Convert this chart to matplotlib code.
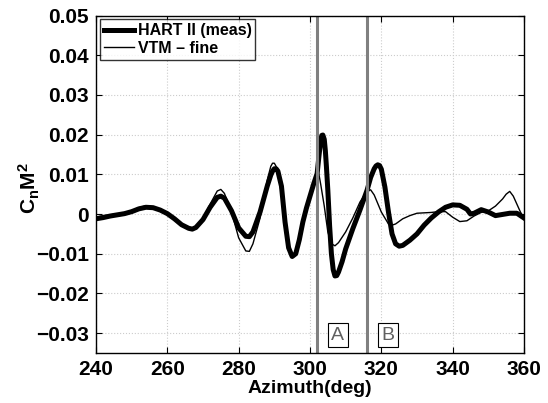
import matplotlib
matplotlib.use("Agg")
import matplotlib.pyplot as plt

plt.rcParams['font.family'] = ['Liberation Sans', 'DejaVu Sans']
plt.rcParams['font.weight'] = 'bold'
plt.rcParams['mathtext.fontset'] = 'custom'
plt.rcParams['mathtext.rm'] = 'Liberation Sans:bold'
plt.rcParams['mathtext.bf'] = 'Liberation Sans:bold'
plt.rcParams['mathtext.it'] = 'Liberation Sans:bold'

# HART II measurement
az_meas = [240, 242, 244, 246, 248, 250, 252, 254, 256, 258, 260, 262, 264, 266, 267, 268,
           270, 272, 274, 275, 276, 278, 280, 282, 283, 284, 286, 288, 289, 289.5, 290, 290.5,
           291, 292, 293, 294, 295, 296, 297, 298, 299, 300, 301, 302, 302.5, 303, 303.3, 303.6,
           304, 304.3, 304.6, 305, 305.5, 306, 306.5, 307, 307.5, 308, 309, 310, 312, 314, 316,
           317, 318, 318.5, 319, 319.5, 320, 321, 322, 323, 324, 325, 326, 328, 330, 332, 334,
           336, 338, 340, 342, 344, 345, 346, 348, 350, 352, 354, 356, 358, 360]
cn_meas = [-0.0012, -0.0009, -0.0005, -0.0002, 0.0001, 0.0006, 0.0013, 0.0017, 0.0016, 0.0010,
           0.0001, -0.0012, -0.0027, -0.0036, -0.0038, -0.0034, -0.0014, 0.0017, 0.0042, 0.0045,
           0.0040, 0.0008, -0.0035, -0.0056, -0.0057, -0.0045, 0.0005, 0.0070, 0.0098, 0.0108,
           0.0114, 0.0114, 0.0108, 0.0070, -0.0020, -0.0085, -0.0107, -0.0100, -0.0065, -0.0020,
           0.0015, 0.0045, 0.0075, 0.0102, 0.0145, 0.0185, 0.0198, 0.0199, 0.0188, 0.0160,
           0.0120, 0.0060, -0.0030, -0.0100, -0.0140, -0.0156, -0.0155, -0.0146, -0.0120, -0.0088,
           -0.0037, 0.0010, 0.0060, 0.0092, 0.0114, 0.0121, 0.0124, 0.0122, 0.0113, 0.0068,
           0.0005, -0.0050, -0.0075, -0.0081, -0.0079, -0.0066, -0.0050, -0.0028, -0.0010, 0.0005,
           0.0017, 0.0023, 0.0022, 0.0012, 0.0000, 0.0002, 0.0011, 0.0005, -0.0004, -0.0001,
           0.0002, 0.0002, -0.0010]

# VTM fine
az_vtm = [240, 242, 244, 246, 248, 250, 252, 254, 256, 258, 260, 262, 264, 266, 267, 268,
          270, 272, 274, 275, 276, 278, 280, 282, 283, 284, 286, 288, 289, 289.5, 290, 290.5,
          291, 292, 293, 294, 295, 296, 297, 298, 299, 300, 301, 302, 302.5, 303, 304, 305,
          306, 307, 308, 310, 312, 314, 316, 317, 318, 320, 322, 323, 324, 326, 328, 330,
          334, 336, 338, 340, 342, 344, 346, 348, 350, 352, 354, 355, 356, 357, 358, 359, 360]
cn_vtm = [-0.0008, -0.0004, -0.0002, 0.0000, 0.0003, 0.0008, 0.0016, 0.0021, 0.0018, 0.0010,
          0.0001, -0.0012, -0.0027, -0.0035, -0.0037, -0.0033, -0.0012, 0.0025, 0.0058, 0.0062,
          0.0052, 0.0005, -0.0060, -0.0093, -0.0094, -0.0075, -0.0010, 0.0085, 0.0120, 0.0128,
          0.0128, 0.0120, 0.0105, 0.0050, -0.0040, -0.0090, -0.0104, -0.0095, -0.0060, -0.0015,
          0.0020, 0.0050, 0.0080, 0.0106, 0.0100, 0.0075, 0.0020, -0.0045, -0.0075, -0.0080,
          -0.0072, -0.0045, -0.0010, 0.0030, 0.0058, 0.0061, 0.0048, 0.0005, -0.0025, -0.0028,
          -0.0025, -0.0012, -0.0004, 0.0002, 0.0004, 0.0006, 0.0006, -0.0008, -0.0019, -0.0017,
          -0.0005, 0.0004, 0.0008, 0.0020, 0.0038, 0.0050, 0.0057, 0.0045, 0.0025, 0.0005,
          -0.0010]

markers_az = [302, 316]
marker_labels = ['A', 'B']
label_az = [307.8, 321.9]

fig = plt.figure(figsize=(5.48, 4.03), dpi=100)
ax = fig.add_axes([96 / 548, 1 - 353 / 403, 428 / 548, 337.5 / 403])

ax.plot(az_meas, cn_meas, color='black', lw=3.6, label='HART II (meas)')
ax.plot(az_vtm, cn_vtm, color='black', lw=1.0, label='VTM \u2013 fine')
for a in markers_az:
    ax.axvline(a, color='#808080', lw=2.2)
for lab, x in zip(marker_labels, label_az):
    ax.text(x, -0.0305, lab, ha='center', va='center', fontsize=14, fontweight='normal',
            color='#606060', bbox=dict(facecolor='white', edgecolor='black', lw=0.8, pad=2.5))

ax.set_xlim(240, 360)
ax.set_ylim(-0.035, 0.05)
ax.set_xticks(range(240, 361, 20))
ax.set_yticks([-0.03, -0.02, -0.01, 0, 0.01, 0.02, 0.03, 0.04, 0.05])
ax.set_yticklabels(['\u22120.03', '\u22120.02', '\u22120.01', '0', '0.01', '0.02', '0.03', '0.04', '0.05'])
ax.tick_params(direction='in', top=True, right=True, labelsize=15, length=4, width=0.8, pad=5)
ax.grid(True, linestyle=':', color='#cccccc', lw=0.8)
ax.set_axisbelow(True)
for s in ax.spines.values():
    s.set_linewidth(1.0)

ax.set_xlabel('Azimuth(deg)', fontsize=14, fontweight='bold', labelpad=1)
ax.set_ylabel(r'C$_\mathbf{n}$M$^\mathbf{2}$', fontsize=15, fontweight='bold')
ax.yaxis.set_label_coords(-0.125, 0.49)

leg = ax.legend(loc='upper left', fontsize=11.5, frameon=True, fancybox=False,
                borderpad=0.25, handlelength=1.9, handletextpad=0.2, labelspacing=0.15,
                borderaxespad=0.25)
leg.get_frame().set_edgecolor('black')
leg.get_frame().set_linewidth(1.0)
for t in leg.get_texts():
    t.set_fontweight('bold')

fig.savefig('out.png', dpi=100)
